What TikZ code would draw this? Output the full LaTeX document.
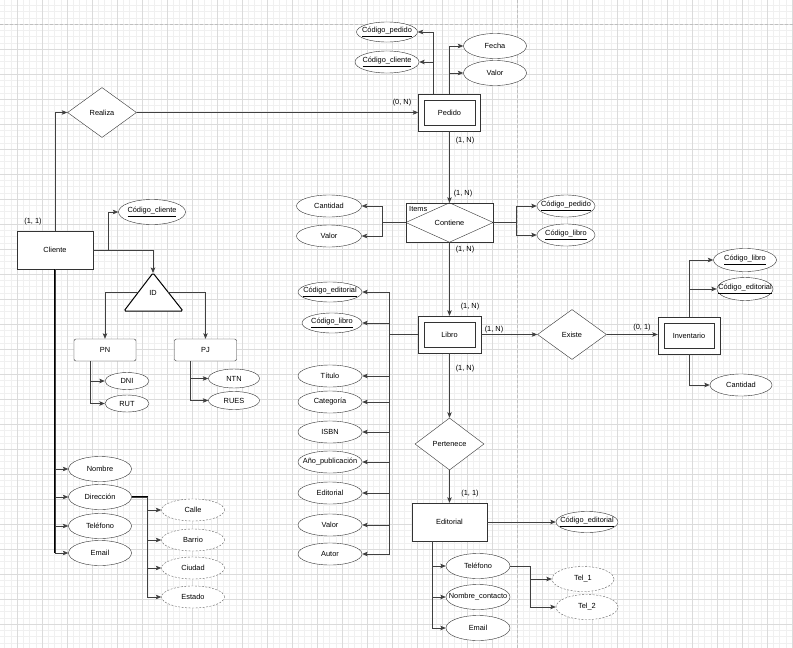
\documentclass[tikz,border=0pt]{standalone}
\usepackage{fontspec}
\setmainfont{Liberation Sans}
\usetikzlibrary{arrows.meta, shapes.geometric}

\tikzset{
	gridminor/.style={draw=black!6, line width=0.4pt},
	gridmajor/.style={draw=black!14, line width=0.5pt},
	pagebreak/.style={draw=black!25, line width=0.8pt, dash pattern=on 3pt off 2pt},
	conn/.style={draw=black!75, line width=0.75pt, -{Stealth[length=5.5pt, width=4.5pt, inset=1.2pt]}},
	bus/.style={draw=black, line width=1.1pt},
	entity/.style={draw=black!80, fill=white, rectangle, minimum width=76, minimum height=38, inner sep=0pt},
	weak/.style={entity, minimum width=62, minimum height=37},
	weakin/.style={draw=black!80},
	subtype/.style={draw=black!80, fill=white, rounded corners=2pt, minimum width=62, minimum height=22, inner sep=0pt},
	rel/.style={draw=black!80, fill=white, diamond, minimum width=69, minimum height=50, inner sep=0pt},
	assoc/.style={draw=black!80, fill=white, rectangle, minimum width=87, minimum height=39, inner sep=0pt},
	idtri/.style={draw=black, line width=1pt, fill=white, rounded corners=1.5pt},
	attr/.style={draw=black!80, fill=white, ellipse, minimum width=#1, minimum height=22, inner sep=0pt,
		execute at begin node={\hbox to 0pt\bgroup\hss}, execute at end node={\hss\egroup}},
	attr/.default=63,
	subattr/.style={attr=#1, draw=black!60, dash pattern=on 2pt off 1.5pt},
	subattr/.default=63,
	card/.style={inner sep=0pt}
}

\begin{document}
\begin{tikzpicture}[x=1pt, y=-1pt, font=\fontsize{7.4}{9}\selectfont]
	\useasboundingbox (0,0) rectangle (793,648);
	
	% Background grid
	\fill[white] (0,0) rectangle (793,648);
	\foreach \x in {4.5,10.75,...,793} \draw[gridminor] (\x,0) -- (\x,648);
	\foreach \y in {5.25,11.5,...,648} \draw[gridminor] (0,\y) -- (793,\y);
	\foreach \x in {17,42,...,793} \draw[gridmajor] (\x,0) -- (\x,648);
	\foreach \y in {24,49,...,648} \draw[gridmajor] (0,\y) -- (793,\y);
	\draw[pagebreak] (0,24.5) -- (793,24.5);
	\draw[pagebreak] (517.5,0) -- (517.5,648);
	
	% Cliente and its specialization
	\node[entity] (cliente) at (55,250) {Cliente};
	\node[card] (card11a) at (33,222) {(1, 1)};
	\node[rel] (realiza) at (102,112.5) {Realiza};
	\node[attr=67, minimum height=25] (codcli) at (152,212) {\underline{Código\_cliente}};
	
	\coordinate (idtop) at (153,273);
	\coordinate (idleft) at (138.5,292);
	\coordinate (idright) at (168,292);
	\draw[idtri] (idtop) -- (183,311) -- (124,311) -- cycle;
	\node (id) at (153,293) {ID};
	
	\node[subtype] (pn) at (105,350) {PN};
	\node[subtype] (pj) at (205.5,350) {PJ};
	\node[attr=44, minimum height=17] (dni) at (127,381) {DNI};
	\node[attr=44, minimum height=17] (rut) at (127,403.5) {RUT};
	\node[attr=51, minimum height=19] (ntn) at (234,378.5) {NTN};
	\node[attr=51, minimum height=18] (rues) at (234,400.5) {RUES};
	
	\node[attr, minimum height=25] (nombre) at (100,469) {Nombre};
	\node[attr, minimum height=25] (dir) at (100,497) {Dirección};
	\node[attr, minimum height=25] (telcli) at (100,526) {Teléfono};
	\node[attr, minimum height=25] (emailcli) at (100,553) {Email};
	\node[subattr] (calle) at (193,510) {Calle};
	\node[subattr] (barrio) at (193,540) {Barrio};
	\node[subattr] (ciudad) at (193,568) {Ciudad};
	\node[subattr] (estado) at (193,597) {Estado};
	
	\draw[conn] (cliente.north) |- (realiza.west);
	\draw[conn] (cliente.east) -- ++(15,0) |- (codcli.west);
	\draw[conn] (cliente.east) -| (idtop);
	\draw[conn] (idleft) -| (pn.north);
	\draw[conn] (idright) -| (pj.north);
	\draw[conn] ([xshift=-15pt]pn.south) |- (dni.west);
	\draw[conn] ([xshift=-15pt]pn.south) |- (rut.west);
	\draw[conn] ([xshift=-15pt]pj.south) |- (ntn.west);
	\draw[conn] ([xshift=-15pt]pj.south) |- (rues.west);
	\draw[bus] (cliente.south) -- (cliente.south |- emailcli.west);
	\draw[conn] (cliente.south) |- (nombre.west);
	\draw[conn] (cliente.south) |- (dir.west);
	\draw[conn] (cliente.south) |- (telcli.west);
	\draw[conn] (cliente.south) |- (emailcli.west);
	\draw[bus] (dir.east) -- ++(16,0) -- ([xshift=16pt]dir.east |- estado.west);
	\draw[conn] (dir.east) -- ++(16,0) |- (calle.west);
	\draw[conn] (dir.east) -- ++(16,0) |- (barrio.west);
	\draw[conn] (dir.east) -- ++(16,0) |- (ciudad.west);
	\draw[conn] (dir.east) -- ++(16,0) |- (estado.west);
	
	% Pedido
	\node[weak] (pedido) at (449.5,112.5) {Pedido};
	\draw[weakin] ([xshift=6pt,yshift=-6pt]pedido.north west) rectangle ([xshift=-6pt,yshift=6pt]pedido.south east);
	\node[card] (card0na) at (402,103) {(0, N)};
	\node[card] (card1na) at (465,141) {(1, N)};
	\node[attr=61, minimum height=20] (codped) at (387,32) {\underline{Código\_pedido}};
	\node[attr=64] (codcli2) at (387,62) {\underline{Código\_cliente}};
	\node[attr, minimum height=25] (fecha) at (495,46) {Fecha};
	\node[attr, minimum height=25] (valorped) at (495,73) {Valor};
	
	\draw[conn] (realiza.east) -- (pedido.west);
	\draw[conn] ([xshift=-16pt]pedido.north) |- (codped.east);
	\draw[conn] ([xshift=-16pt]pedido.north) |- (codcli2.east);
	\draw[conn] (pedido.north) |- (fecha.west);
	\draw[conn] (pedido.north) |- (valorped.west);
	
	% Items (Contiene)
	\node[assoc] (items) at (449.5,222.5) {};
	\draw[draw=black!80] (items.west) -- (items.north) -- (items.east) -- (items.south) -- cycle;
	\node (contiene) at (items.center) {Contiene};
	\node[anchor=west, inner sep=0pt] (itemslbl) at (409,209) {Items};
	\node[card] (card1nb) at (463,194) {(1, N)};
	\node[card] (card1nc) at (465,250) {(1, N)};
	\node[attr=65] (cantidad) at (329,206) {Cantidad};
	\node[attr=65] (valorit) at (329,236) {Valor};
	\node[attr=58] (codped2) at (566,206) {\underline{Código\_pedido}};
	\node[attr=58] (codlib) at (566,235) {\underline{Código\_libro}};
	
	\draw[conn] (pedido.south) -- (items.north);
	\draw[conn] (items.west) -- ++(-23,0) |- (cantidad.east);
	\draw[conn] (items.west) -- ++(-23,0) |- (valorit.east);
	\draw[conn] (items.east) -- ++(23,0) |- (codped2.west);
	\draw[conn] (items.east) -- ++(23,0) |- (codlib.west);
	
	% Libro
	\node[weak, minimum width=63] (libro) at (449.5,334.5) {Libro};
	\draw[weakin] ([xshift=6.5pt,yshift=-6pt]libro.north west) rectangle ([xshift=-6.5pt,yshift=6pt]libro.south east);
	\node[card] (card1nd) at (470,307) {(1, N)};
	\node[card] (card1ne) at (494,330) {(1, N)};
	\node[card] (card1nf) at (465,369) {(1, N)};
	\node[attr=64, minimum height=20] (codedit) at (330,292) {\underline{Código\_editorial}};
	\node[attr=60, minimum height=20] (codlib2) at (332,323) {\underline{Código\_libro}};
	\node[attr=64] (titulo) at (330,376) {Título};
	\node[attr=64] (categoria) at (330,402) {Categoría};
	\node[attr=64] (isbn) at (330,432) {ISBN};
	\node[attr=64] (anio) at (330,462) {Año\_publicación};
	\node[attr=64] (editattr) at (330,493) {Editorial};
	\node[attr=64] (valorlib) at (330,525) {Valor};
	\node[attr=64] (autor) at (330,554) {Autor};
	
	\draw[conn] (items.south) -- (libro.north);
	\draw[bus] (libro.west) -- ++(-28,0) coordinate (libbus) -- (libbus |- codedit.east);
	\draw[bus] (libbus) -- (libbus |- autor.east);
	\foreach \a in {codedit,codlib2,titulo,categoria,isbn,anio,editattr,valorlib,autor}
		\draw[conn] (libro.west) -- ++(-28,0) |- (\a.east);
	
	% Existe and Inventario
	\node[rel] (existe) at (572,334.5) {Existe};
	\node[card] (card01) at (642,328) {(0, 1)};
	\node[weak] (inventario) at (689,335.5) {Inventario};
	\draw[weakin] ([xshift=6pt,yshift=-6pt]inventario.north west) rectangle ([xshift=-6pt,yshift=6pt]inventario.south east);
	\node[attr=63, minimum height=23] (codlib3) at (745,260) {\underline{Código\_libro}};
	\node[attr=56, minimum height=23] (codedit2) at (745,289) {\underline{Código\_editorial}};
	\node[attr=62] (cantinv) at (741,385) {Cantidad};
	
	\draw[conn] (libro.east) -- (existe.west);
	\draw[conn] (existe.east) -- (existe.east -| inventario.west);
	\draw[conn] (inventario.north) |- (codlib3.west);
	\draw[conn] (inventario.north) |- (codedit2.west);
	\draw[conn] (inventario.south) |- (cantinv.west);
	
	% Pertenece and Editorial
	\node[rel, minimum height=52] (pertenece) at (449.5,444) {Pertenece};
	\node[card] (card11b) at (470,494) {(1, 1)};
	\node[entity, minimum width=75] (editorial) at (449.5,522) {Editorial};
	\node[attr=62, minimum height=21] (codedit3) at (587,522) {\underline{Código\_editorial}};
	\node[attr=64, minimum height=25] (teledit) at (478,566) {Teléfono};
	\node[attr=64, minimum height=25] (contacto) at (478,597) {Nombre\_contacto};
	\node[attr=64, minimum height=25] (emailedit) at (478,628) {Email};
	\node[subattr=62, minimum height=25] (tel1) at (583,579) {Tel\_1};
	\node[subattr=62, minimum height=25] (tel2) at (587,607) {Tel\_2};
	
	\draw[conn] (libro.south) -- (pertenece.north);
	\draw[conn] (pertenece.south) -- (editorial.north);
	\draw[conn] (editorial.east) -- (codedit3.west);
	\draw[conn] ([xshift=-17pt]editorial.south) |- (teledit.west);
	\draw[conn] ([xshift=-17pt]editorial.south) |- (contacto.west);
	\draw[conn] ([xshift=-17pt]editorial.south) |- (emailedit.west);
	\draw[conn] (teledit.east) -- ++(20,0) |- (tel1.west);
	\draw[conn] (teledit.east) -- ++(20,0) |- (tel2.west);
\end{tikzpicture}
\end{document}
